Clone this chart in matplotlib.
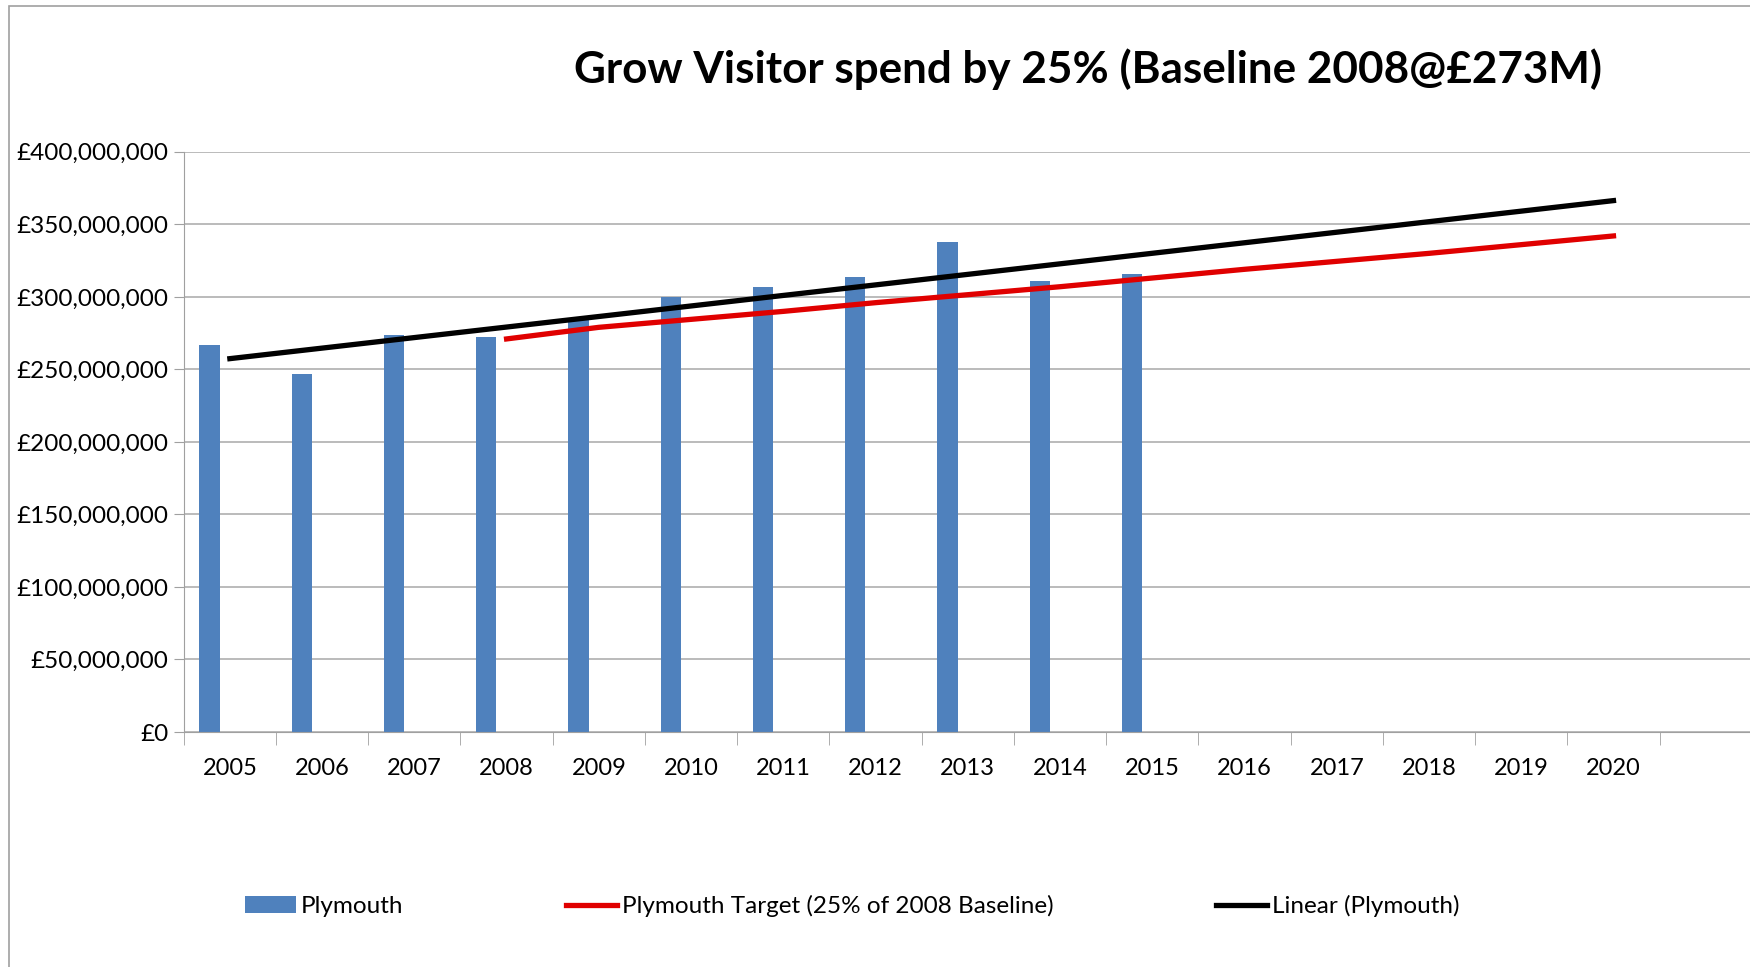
import numpy as np
import matplotlib
matplotlib.use('Agg')
import matplotlib.pyplot as plt
from matplotlib.ticker import FuncFormatter, FixedLocator
from matplotlib.patches import Rectangle

# data (in pounds)
years = [str(y) for y in range(2005, 2021)]
spend_years = years[:11]
spend = [267e6, 247e6, 274e6, 272e6, 285e6, 300e6, 307e6, 314e6, 338e6, 311e6, 316e6]
target_years = years[3:]
target = [271e6, 279e6, 284.5e6, 290e6, 296e6, 301.5e6, 307e6, 313e6, 319e6, 324.5e6, 330e6, 336e6, 342e6]

plt.rcParams['font.family'] = ['Lato', 'DejaVu Sans']

fig = plt.figure(figsize=(17.5, 9.67), dpi=100)
ax = fig.add_axes([0.105, 0.243, 0.895, 0.6])

x_all = np.arange(len(years))
x_spend = np.arange(len(spend_years))
x_target = np.arange(3, 3 + len(target_years))

# bars sit left of the category centre (Excel cluster slot)
ax.bar(x_spend - 0.22, spend, width=0.22, color='#4F81BD', label='Plymouth', zorder=2)
ax.plot(x_target, target, color='#E00000', lw=3.8, label='Plymouth Target (25% of 2008 Baseline)', zorder=3)

# linear trendline like Excel's
k, b = np.polyfit(x_spend, spend, 1)
ax.plot(x_all, k * x_all + b, color='black', lw=3.8, label='Linear (Plymouth)', zorder=4)

ax.set_ylim(0, 400e6)
ax.set_xlim(-0.5, 16.48)
ax.set_yticks(np.arange(0, 400e6 + 1, 50e6))
ax.yaxis.set_major_formatter(FuncFormatter(lambda v, p: '£{:,.0f}'.format(v)))
ax.set_xticks(x_all)
ax.set_xticklabels(years)
ax.xaxis.set_minor_locator(FixedLocator(np.arange(-0.5, 16.6, 1)))
ax.tick_params(axis='x', which='major', length=0, pad=19, labelsize=17)
ax.tick_params(axis='x', which='minor', length=9, color='#A0A0A0')
ax.tick_params(axis='y', length=7, color='#A0A0A0', labelsize=17.5, pad=4)
ax.grid(axis='y', color='#A8A8A8', lw=1.1, zorder=0)
for s in ['top', 'right']:
    ax.spines[s].set_visible(False)
for s in ['left', 'bottom']:
    ax.spines[s].set_color('#A0A0A0')

fig.text(0.622, 0.928, 'Grow Visitor spend by 25% (Baseline 2008@£273M)',
         ha='center', va='center', fontsize=31.7, fontweight='bold')

h, l = ax.get_legend_handles_labels()
order = [2, 0, 1]
fig.legend([h[i] for i in order], [l[i] for i in order], loc='center',
           bbox_to_anchor=(0.487, 0.063), ncol=3, frameon=False,
           fontsize=17.5, handlelength=2.1, handletextpad=0.2, columnspacing=6.7)

# chart border (cropped at right/bottom)
fig.patches.append(Rectangle((9 / 1750, -0.1), 1.2, 1.1 - 6 / 967, transform=fig.transFigure,
                             fill=False, edgecolor='#A0A0A0', lw=1.2))

fig.savefig('out.png', dpi=100)
